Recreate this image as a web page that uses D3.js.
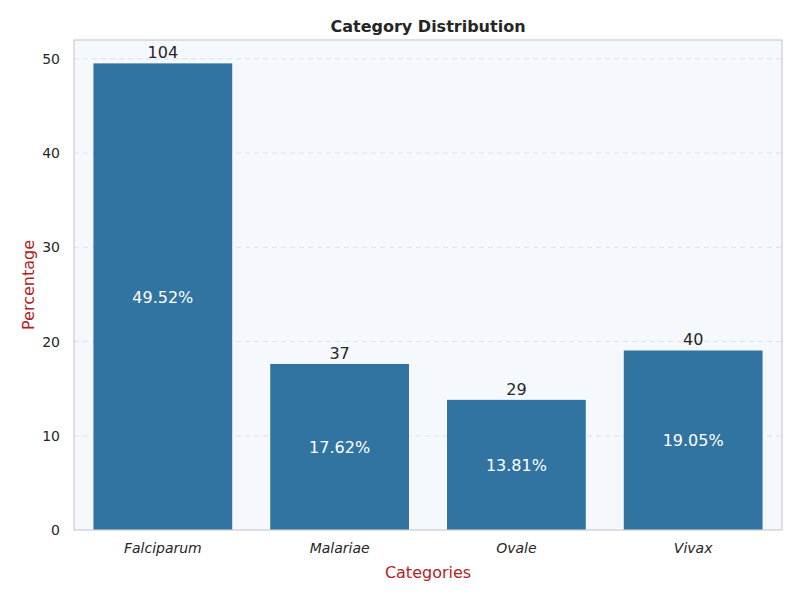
<!DOCTYPE html>
<html>
<head>
<meta charset="utf-8">
<script src="https://cdn.jsdelivr.net/npm/d3@7"></script>
<style>
body { margin: 0; background: #fff; font-family: "DejaVu Sans", sans-serif; }
</style>
</head>
<body>
<div id="app"></div>
<script>
const categories = ["Falciparum", "Malariae", "Ovale", "Vivax"];
const counts = [104, 37, 29, 40];
const percents = [49.52, 17.62, 13.81, 19.05];
const yTicks = [0, 10, 20, 30, 40, 50];

const W = 800, H = 600;
const plotL = 74, plotR = 782, plotT = 40, plotB = 530;

const svg = d3.select("#app").append("svg")
    .attr("width", W).attr("height", H)
    .style("font-family", "DejaVu Sans, sans-serif");

const x = d3.scaleBand().domain(categories).range([plotL, plotR]).paddingInner(0.215).paddingOuter(0.11);
const y = d3.scaleLinear().domain([0, 52]).range([plotB, plotT]);

//BACKGROUND
svg.append("rect")
    .attr("x", plotL).attr("y", plotT)
    .attr("width", plotR - plotL).attr("height", plotB - plotT)
    .style("fill", "#f5f8fc");

//GRID
svg.selectAll(".grid").data(yTicks.slice(1)).enter().append("line")
    .attr("x1", plotL).attr("x2", plotR)
    .attr("y1", d => y(d)).attr("y2", d => y(d))
    .style("stroke", "#dde1e6").style("stroke-dasharray", "5,4").style("stroke-width", 1);

//BARS
const data = categories.map((c, i) => ({ c: c, n: counts[i], p: percents[i] }));
svg.selectAll(".bar").data(data).enter().append("rect")
    .attr("x", d => x(d.c)).attr("width", x.bandwidth())
    .attr("y", d => y(d.p)).attr("height", d => y(0) - y(d.p))
    .style("fill", "#3274a1");

svg.selectAll(".cnt").data(data).enter().append("text")
    .attr("x", d => x(d.c) + x.bandwidth() / 2).attr("y", d => y(d.p) - 5)
    .attr("text-anchor", "middle").style("font-size", "16px").style("fill", "#262626")
    .text(d => d.n);

svg.selectAll(".pct").data(data).enter().append("text")
    .attr("x", d => x(d.c) + x.bandwidth() / 2).attr("y", d => y(d.p / 2) + 6)
    .attr("text-anchor", "middle").style("font-size", "16px").style("fill", "#fff")
    .text(d => d.p.toFixed(2) + "%");

//FRAME
svg.append("rect")
    .attr("x", plotL).attr("y", plotT)
    .attr("width", plotR - plotL).attr("height", plotB - plotT)
    .style("fill", "none").style("stroke", "#c8ccd0").style("stroke-width", 1.2);

//AXES
const yAxis = svg.append("g").attr("transform", `translate(${plotL},0)`)
    .call(d3.axisLeft(y).tickValues(yTicks).tickSize(0).tickPadding(14));
yAxis.select(".domain").remove();
yAxis.selectAll("text").style("font-size", "14px").style("fill", "#262626").style("font-family", "DejaVu Sans, sans-serif");

const xAxis = svg.append("g").attr("transform", `translate(0,${plotB})`)
    .call(d3.axisBottom(x).tickSize(0).tickPadding(13));
xAxis.select(".domain").remove();
xAxis.selectAll("text").style("font-size", "14px").style("font-style", "italic").style("fill", "#262626").style("font-family", "DejaVu Sans, sans-serif");

svg.append("text").attr("x", (plotL + plotR) / 2).attr("y", 32)
    .attr("text-anchor", "middle").style("font-size", "16px").style("font-weight", "bold").style("fill", "#262626")
    .text("Category Distribution");

svg.append("text").attr("x", (plotL + plotR) / 2).attr("y", 578)
    .attr("text-anchor", "middle").style("font-size", "16px").style("fill", "#b22222")
    .text("Categories");

svg.append("text").attr("transform", `translate(34,${(plotT + plotB) / 2}) rotate(-90)`)
    .attr("text-anchor", "middle").style("font-size", "16px").style("fill", "#b22222")
    .text("Percentage");
</script>
</body>
</html>
